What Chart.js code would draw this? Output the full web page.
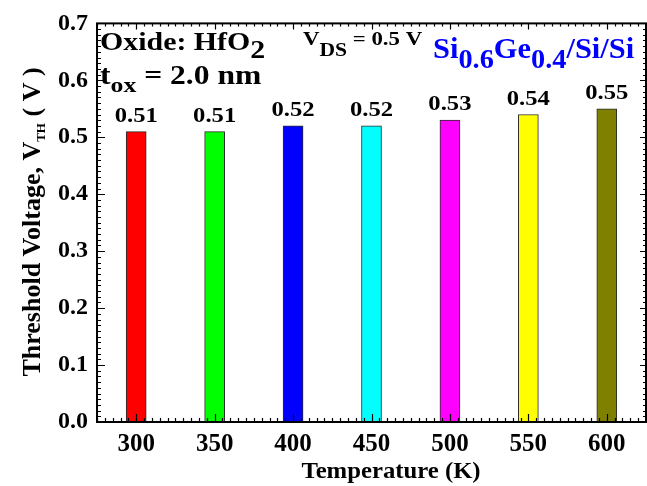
<!DOCTYPE html>
<html>
<head>
<meta charset="utf-8">
<script src="https://cdn.jsdelivr.net/npm/chart.js@4.4.1/dist/chart.umd.min.js"></script>
<style>
html,body{margin:0;padding:0;background:#fff;}
#wrap{width:647px;height:486px;position:relative;}
</style>
</head>
<body>
<div id="wrap"><canvas id="c" width="647" height="486"></canvas></div>
<script>
const temperatures = [300, 350, 400, 450, 500, 550, 600];
const vthValues = [0.51, 0.51, 0.52, 0.52, 0.53, 0.54, 0.55];
const valueLabels = ['0.51', '0.51', '0.52', '0.52', '0.53', '0.54', '0.55'];
const barColors = ['#ff0000', '#00ff00', '#0000ff', '#00ffff', '#ff00ff', '#ffff00', '#808000'];
const xTickValues = [300, 350, 400, 450, 500, 550, 600];
const xTickLabels = ['300', '350', '400', '450', '500', '550', '600'];
const yTickValues = [0, 0.1, 0.2, 0.3, 0.4, 0.5, 0.6, 0.7];
const yTickLabels = ['0.0', '0.1', '0.2', '0.3', '0.4', '0.5', '0.6', '0.7'];
const xTitle = 'Temperature (K)';
const FONT = "'Liberation Serif', 'Times New Roman', serif";

function drawRuns(ctx, x, y, runs, sx) {
  sx = sx || 1;
  ctx.save();
  ctx.translate(x, y);
  ctx.scale(sx, 1);
  let cx = 0;
  ctx.textAlign = 'left';
  ctx.textBaseline = 'alphabetic';
  for (const r of runs) {
    ctx.font = 'bold ' + r.size + 'px ' + FONT;
    ctx.fillStyle = r.color || '#000';
    ctx.fillText(r.t, cx, r.dy || 0);
    cx += ctx.measureText(r.t).width;
  }
  ctx.restore();
  return cx * sx;
}
function runsWidth(ctx, runs) {
  let w = 0;
  for (const r of runs) { ctx.font = 'bold ' + r.size + 'px ' + FONT; w += ctx.measureText(r.t).width; }
  return w;
}

const decor = {
  id: 'decor',
  afterDatasetsDraw(chart) {
    const ctx = chart.ctx;
    const a = chart.chartArea;
    const xs = chart.scales.x, ys = chart.scales.y;
    // value labels above bars
    const meta = chart.getDatasetMeta(0);
    meta.data.forEach((el, i) => {
      ctx.save();
      ctx.translate(el.x, el.y - 10);
      ctx.scale(1.12, 1);
      ctx.font = 'bold 22px ' + FONT;
      ctx.fillStyle = '#000';
      ctx.textAlign = 'center';
      ctx.textBaseline = 'alphabetic';
      ctx.fillText(valueLabels[i], 0, 0);
      ctx.restore();
    });
    // frame
    ctx.save();
    ctx.strokeStyle = '#000';
    ctx.lineWidth = 2;
    ctx.strokeRect(a.left, a.top, a.right - a.left, a.bottom - a.top);
    // ticks (inward)
    ctx.lineWidth = 1.2;
    ctx.beginPath();
    for (let v = 0; v <= 0.7001; v += 0.01) {
      const major = Math.abs(v * 10 - Math.round(v * 10)) < 1e-6;
      const py = Math.round(ys.getPixelForValue(v)) + 0.5;
      const L = major ? 8 : 4;
      ctx.moveTo(a.left, py); ctx.lineTo(a.left + L, py);
      ctx.moveTo(a.right, py); ctx.lineTo(a.right - (major ? 6 : 3), py);
    }
    for (let v = 275; v <= 625; v += 5) {
      const major = v % 50 === 0;
      const px = Math.round(xs.getPixelForValue(v)) + 0.5;
      const L = major ? 8 : 4;
      ctx.moveTo(px, a.bottom); ctx.lineTo(px, a.bottom - L);
      ctx.moveTo(px, a.top); ctx.lineTo(px, a.top + (major ? 6 : 3));
    }
    ctx.stroke();
    ctx.restore();

    // x title
    ctx.save();
    ctx.translate(391, 478);
    ctx.scale(1.03, 1);
    ctx.font = 'bold 24px ' + FONT;
    ctx.fillStyle = '#000';
    ctx.textAlign = 'center';
    ctx.textBaseline = 'alphabetic';
    ctx.fillText(xTitle, 0, 0);
    ctx.restore();

    // y title rotated
    const yRuns = [
      { t: 'Threshold Voltage, V', size: 26 },
      { t: 'TH', size: 13, dy: 5 },
      { t: ' ( V )', size: 26 }
    ];
    ctx.save();
    ctx.translate(40, 222);
    ctx.rotate(-Math.PI / 2);
    const w = runsWidth(ctx, yRuns);
    drawRuns(ctx, -w / 2, 0, yRuns, 1);
    ctx.restore();

    // annotations
    drawRuns(ctx, 100, 50, [
      { t: 'Oxide: HfO', size: 26 },
      { t: '2', size: 26, dy: 8 }
    ], 1.15);
    drawRuns(ctx, 100, 84, [
      { t: 't', size: 27 },
      { t: 'ox', size: 22, dy: 8 },
      { t: ' = 2.0 nm', size: 27 }
    ], 1.17);
    drawRuns(ctx, 303, 45, [
      { t: 'V', size: 19 },
      { t: 'DS', size: 18, dy: 11 },
      { t: ' = 0.5 V', size: 19 }
    ], 1.2);
    drawRuns(ctx, 433, 58, [
      { t: 'Si', size: 29, color: '#0000ff' },
      { t: '0.6', size: 27, dy: 10, color: '#0000ff' },
      { t: 'Ge', size: 29, color: '#0000ff' },
      { t: '0.4', size: 27, dy: 10, color: '#0000ff' },
      { t: '/Si/Si', size: 29, color: '#0000ff' }
    ], 1.05);
  }
};

new Chart(document.getElementById('c'), {
  type: 'bar',
  data: {
    datasets: [{
      data: temperatures.map((t, i) => ({ x: t, y: vthValues[i] })),
      backgroundColor: barColors,
      borderColor: '#2a2a2a',
      borderWidth: 1,
      borderSkipped: false,
      barThickness: 20
    }]
  },
  options: {
    responsive: false,
    animation: false,
    devicePixelRatio: 1,
    layout: { padding: { top: 22, right: 1, left: 0, bottom: 0 } },
    plugins: { legend: { display: false }, tooltip: { enabled: false } },
    scales: {
      x: {
        type: 'linear',
        min: 275,
        max: 625,
        offset: false,
        grid: { display: false, drawTicks: false },
        border: { display: false },
        afterBuildTicks: (s) => { s.ticks = xTickValues.map(v => ({ value: v })); },
        afterFit: (s) => { s.height = 64; },
        ticks: {
          padding: 8,
          color: '#000',
          font: { family: FONT, size: 25, weight: 'bold' },
          callback: (v) => { const i = xTickValues.indexOf(v); return i >= 0 ? xTickLabels[i] : ''; }
        }
      },
      y: {
        type: 'linear',
        min: 0,
        max: 0.7,
        grid: { display: false, drawTicks: false },
        border: { display: false },
        afterBuildTicks: (s) => { s.ticks = yTickValues.map(v => ({ value: v })); },
        afterFit: (s) => { s.width = 97; },
        ticks: {
          padding: 9,
          color: '#000',
          font: { family: FONT, size: 24, weight: 'bold' },
          callback: (v) => { const i = yTickValues.findIndex(t => Math.abs(t - v) < 1e-9); return i >= 0 ? yTickLabels[i] : ''; }
        }
      }
    }
  },
  plugins: [decor]
});
</script>
</body>
</html>
